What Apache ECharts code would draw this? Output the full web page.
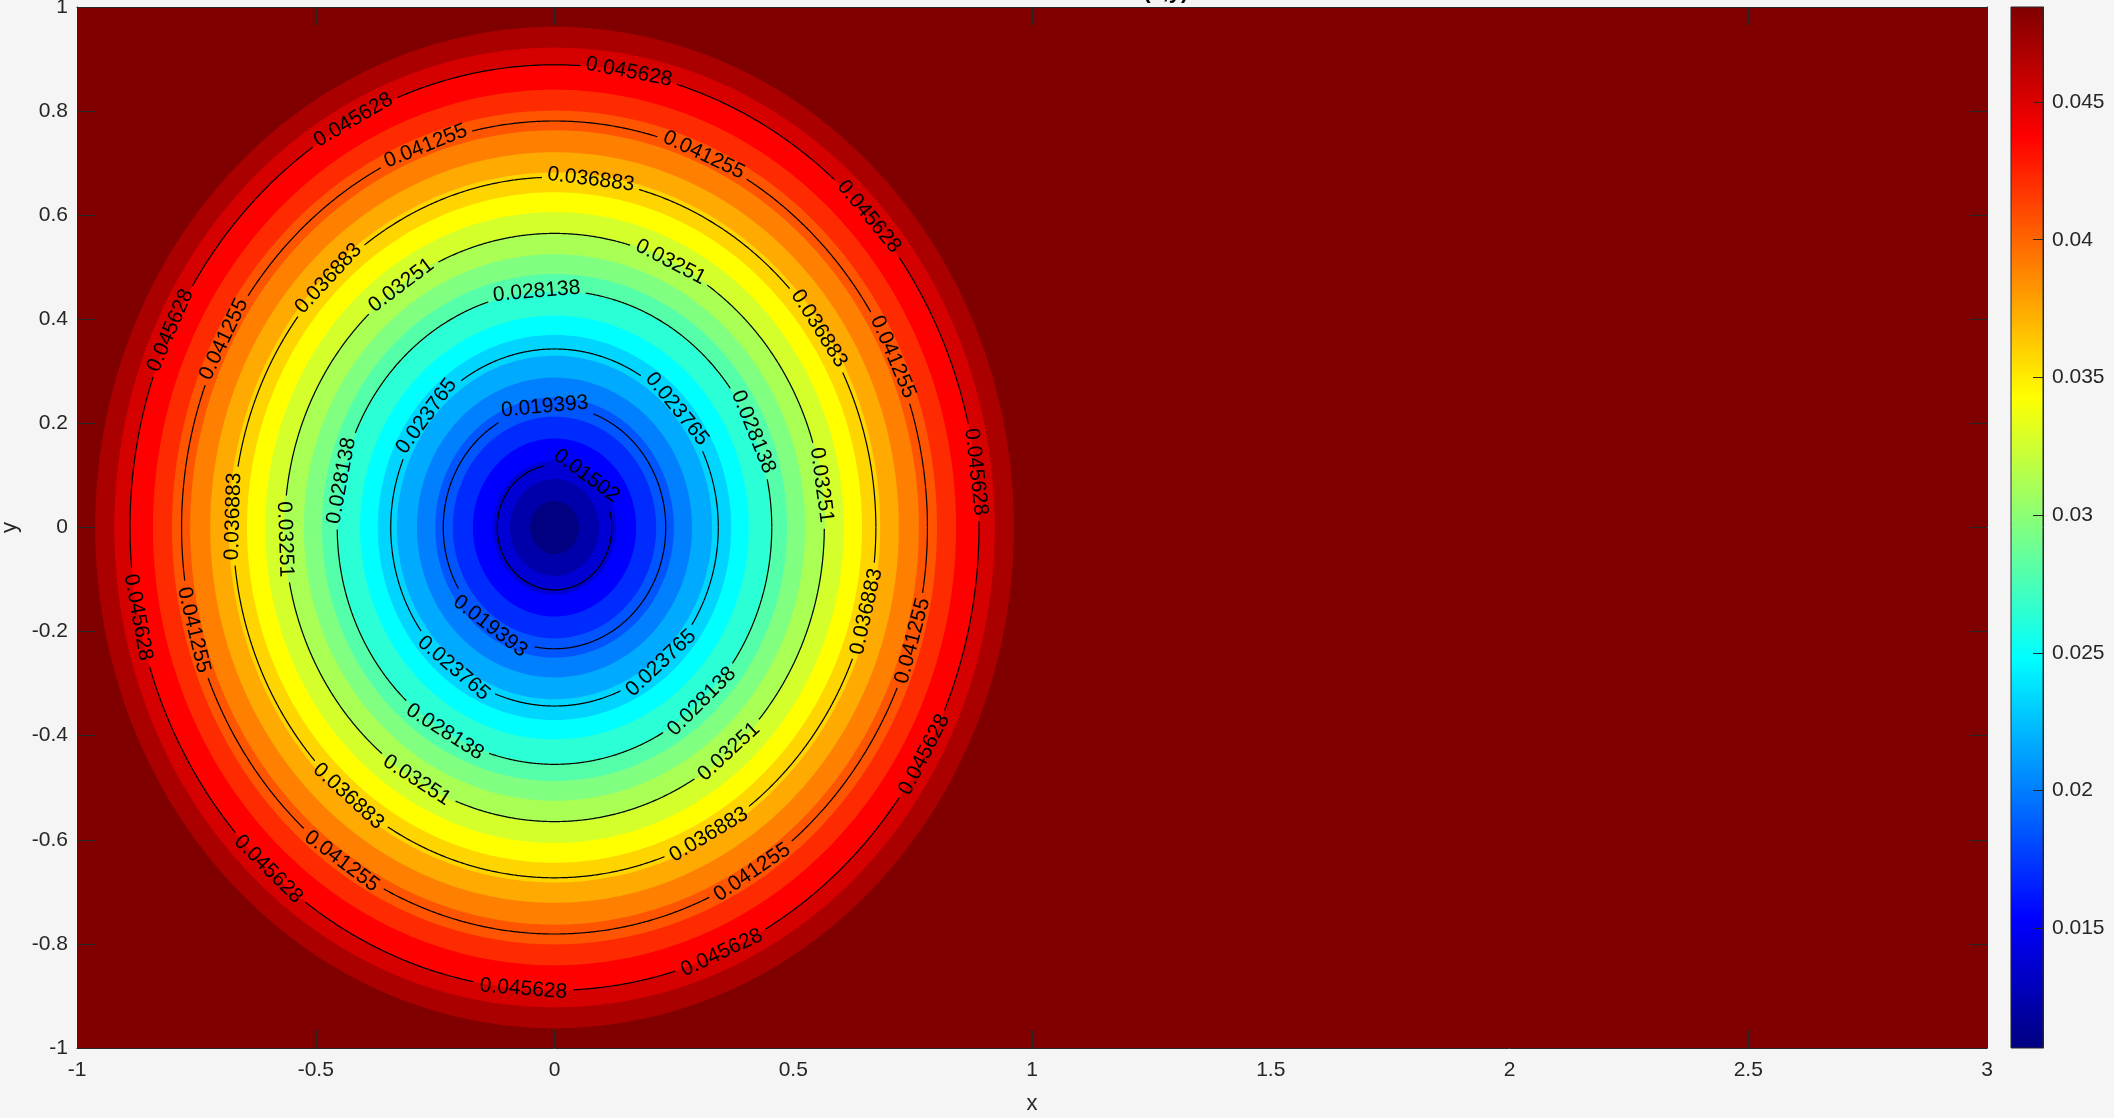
<!DOCTYPE html>
<html>
<head>
<meta charset="utf-8">
<script src="https://cdn.jsdelivr.net/npm/echarts@6/dist/echarts.min.js"></script>
<style>
html,body{margin:0;padding:0;background:#f5f5f5;}
#chart{width:2114px;height:1118px;}
</style>
</head>
<body>
<div id="chart"></div>
<script>
// ---- data ----
const xRange = [-1, 3];
const yRange = [-1, 1];
const xInterval = 0.5;
const yInterval = 0.2;
const colorRange = [0.01065, 0.04845];
const colorbarTicks = [0.015, 0.02, 0.025, 0.03, 0.035, 0.04, 0.045];
const jetColors = ['#000080', '#0000ff', '#0080ff', '#00ffff', '#80ff80', '#ffff00', '#ff8000', '#ff0000', '#800000'];

// filled bands: level of each band (centre outwards) and its outer radius
const bandLevels = [0.01065, 0.012225, 0.0138, 0.015375, 0.01695, 0.018525, 0.0201, 0.021675,
  0.02325, 0.024825, 0.0264, 0.027975, 0.02955, 0.031125, 0.0327, 0.034275, 0.03585,
  0.037425, 0.039, 0.040575, 0.04215, 0.043725, 0.0453, 0.046875, 0.04845];
const bandOuterRadii = [0.051, 0.093, 0.129, 0.171, 0.213, 0.250, 0.288, 0.330, 0.370, 0.407,
  0.453, 0.487, 0.525, 0.567, 0.606, 0.644, 0.682, 0.721, 0.763, 0.801, 0.841, 0.889,
  0.922, 0.962, null];

// contour lines
const contourLevels = ['0.01502', '0.019393', '0.023765', '0.028138', '0.03251', '0.036883', '0.041255', '0.045628'];
const contourRadii = [0.120, 0.233, 0.343, 0.455, 0.565, 0.673, 0.781, 0.889];
const contourLabelAngles = [
  [56],
  [95, 234.6],
  [41.6, 141.4, 232, 310.6],
  [23.8, 94.7, 168.6, 239.7, 312.7],
  [8.3, 64.5, 124.6, 182.3, 239.3, 310.3],
  [34.6, 83.5, 134.7, 178.2, 230.1, 298.7, 346.1],
  [24.8, 66.4, 110.2, 152.4, 194.6, 235.2, 302, 343.8],
  [6.9, 42.2, 79.9, 118.3, 154.8, 191.2, 227.6, 265.8, 293.2, 330.6]
];

// ---- chart ----
const FONT_FAMILY = '"Liberation Sans", Arial, Helvetica, sans-serif';
const FS = 21;
const AX = '#262626';
const measureCtx = document.createElement('canvas').getContext('2d');
measureCtx.font = FS + 'px ' + FONT_FAMILY;
function textWidth(t) { return measureCtx.measureText(t).width; }

function renderBand(params, api) {
  const idx = api.value(0);
  const r = bandOuterRadii[idx];
  const color = api.visual('color');
  if (r == null) {
    const p0 = api.coord([xRange[0], yRange[1]]);
    const p1 = api.coord([xRange[1], yRange[0]]);
    return { type: 'rect', shape: { x: p0[0], y: p0[1], width: p1[0] - p0[0], height: p1[1] - p0[1] }, style: { fill: color } };
  }
  const N = 360, pts = [];
  for (let k = 0; k < N; k++) {
    const a = 2 * Math.PI * k / N;
    pts.push(api.coord([r * Math.cos(a), r * Math.sin(a)]));
  }
  return { type: 'polygon', shape: { points: pts }, style: { fill: color } };
}

function renderContour(params, api) {
  const r = api.value(0);
  const i = api.value(1);
  const text = contourLevels[i];
  const half = textWidth(text) / 2 + 5;
  const labels = contourLabelAngles[i].map(function (deg) {
    const a = deg * Math.PI / 180, e = 0.01;
    const c = api.coord([r * Math.cos(a), r * Math.sin(a)]);
    const p1 = api.coord([r * Math.cos(a - e), r * Math.sin(a - e)]);
    const p2 = api.coord([r * Math.cos(a + e), r * Math.sin(a + e)]);
    let rot = -Math.atan2(p2[1] - p1[1], p2[0] - p1[0]);
    while (rot > Math.PI / 2) rot -= Math.PI;
    while (rot <= -Math.PI / 2) rot += Math.PI;
    return { c: c, rot: rot };
  });
  const N = 1440;
  const children = [];
  let seg = [];
  function flush() {
    if (seg.length > 1) children.push({ type: 'polyline', shape: { points: seg }, style: { stroke: '#000', lineWidth: 1.2, fill: null } });
    seg = [];
  }
  for (let k = 0; k <= N; k++) {
    const a = 2 * Math.PI * k / N;
    const p = api.coord([r * Math.cos(a), r * Math.sin(a)]);
    const hidden = labels.some(function (l) { return Math.hypot(p[0] - l.c[0], p[1] - l.c[1]) < half; });
    if (hidden) flush(); else seg.push(p);
  }
  flush();
  labels.forEach(function (l) {
    children.push({
      type: 'text', x: l.c[0], y: l.c[1], rotation: l.rot,
      style: { text: text, fill: '#000', fontSize: FS, fontFamily: FONT_FAMILY, align: 'center', verticalAlign: 'middle' }
    });
  });
  return { type: 'group', children: children };
}

function renderColorbar(params, api) {
  const p0 = api.coord([0, api.value(1)]);
  const p1 = api.coord([1, api.value(0)]);
  const stops = jetColors.map(function (c, k) { return { offset: k / (jetColors.length - 1), color: c }; });
  return {
    type: 'rect',
    shape: { x: p0[0], y: p0[1], width: p1[0] - p0[0], height: p1[1] - p0[1] },
    style: { fill: new echarts.graphic.LinearGradient(0, 1, 0, 0, stops), stroke: AX, lineWidth: 1 }
  };
}

const labelStyle = { color: AX, fontSize: FS, fontFamily: FONT_FAMILY };
const mainAxisCommon = {
  type: 'value', gridIndex: 0, z: 10,
  axisLine: { show: true, onZero: false, lineStyle: { color: AX, width: 1 } },
  axisTick: { show: true, inside: true, length: 18, lineStyle: { color: AX, width: 1 } },
  splitLine: { show: false }
};

const bandData = bandLevels.map(function (v, i) { return [i, v]; }).reverse();
const contourData = contourRadii.map(function (r, i) { return [r, i]; });

const option = {
  backgroundColor: '#f5f5f5',
  animation: false,
  title: {
    text: 'Numerical solution u(x,y)',
    left: 'center', top: -24,
    textStyle: { fontSize: 22, fontWeight: 'bold', color: '#000', fontFamily: FONT_FAMILY }
  },
  grid: [
    { left: 77, right: 127, top: 7, bottom: 70, outerBoundsMode: 'none', containLabel: false },
    { left: 2011, width: 32, top: 7, bottom: 70, outerBoundsMode: 'none', containLabel: false }
  ],
  xAxis: [
    Object.assign({}, mainAxisCommon, {
      position: 'bottom', min: xRange[0], max: xRange[1], interval: xInterval,
      name: 'x', nameLocation: 'middle', nameGap: 45,
      nameTextStyle: { color: AX, fontSize: 22, fontFamily: FONT_FAMILY },
      axisLabel: Object.assign({ margin: 12 }, labelStyle)
    }),
    Object.assign({}, mainAxisCommon, {
      position: 'top', min: xRange[0], max: xRange[1], interval: xInterval,
      axisLabel: { show: false }
    }),
    { type: 'value', gridIndex: 1, min: 0, max: 1, show: false }
  ],
  yAxis: [
    Object.assign({}, mainAxisCommon, {
      position: 'left', min: yRange[0], max: yRange[1], interval: yInterval,
      name: 'y', nameLocation: 'middle', nameGap: 56,
      nameTextStyle: { color: AX, fontSize: 22, fontFamily: FONT_FAMILY },
      axisLabel: Object.assign({ margin: 9 }, labelStyle)
    }),
    Object.assign({}, mainAxisCommon, {
      position: 'right', min: yRange[0], max: yRange[1], interval: yInterval,
      axisLabel: { show: false }
    }),
    {
      type: 'value', gridIndex: 1, position: 'right', z: 10,
      min: colorRange[0], max: colorRange[1],
      axisLine: { show: true, onZero: false, lineStyle: { color: AX, width: 1 } },
      axisTick: { show: true, inside: true, length: 10, customValues: colorbarTicks, lineStyle: { color: AX } },
      axisLabel: Object.assign({ margin: 9, customValues: colorbarTicks, formatter: function (v) { return String(+(+v).toFixed(4)); } }, labelStyle),
      splitLine: { show: false }
    }
  ],
  visualMap: {
    type: 'continuous', show: false, seriesIndex: 0, dimension: 1,
    min: colorRange[0], max: colorRange[1],
    inRange: { color: jetColors }
  },
  series: [
    { type: 'custom', xAxisIndex: 0, yAxisIndex: 0, z: 2, silent: true, clip: true, renderItem: renderBand, data: bandData },
    { type: 'custom', xAxisIndex: 0, yAxisIndex: 0, z: 3, silent: true, clip: true, renderItem: renderContour, data: contourData },
    { type: 'custom', xAxisIndex: 2, yAxisIndex: 2, z: 2, silent: true, renderItem: renderColorbar, data: [[colorRange[0], colorRange[1]]] }
  ]
};

const chart = echarts.init(document.getElementById('chart'), null, { renderer: 'canvas' });
chart.setOption(option);
</script>
</body>
</html>
